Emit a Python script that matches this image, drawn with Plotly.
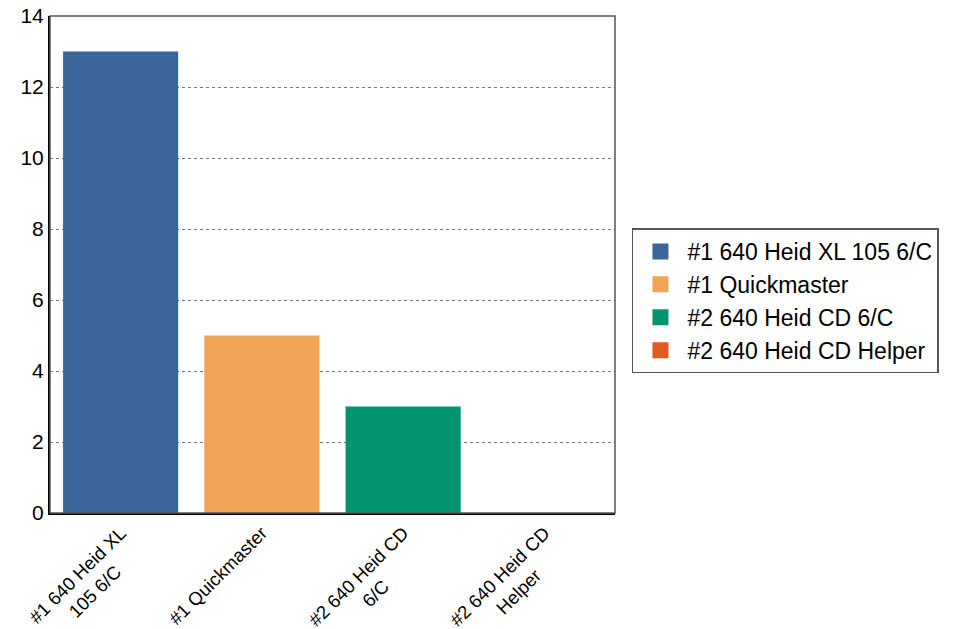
import plotly.graph_objects as go

categories = ["#1 640 Heid XL 105 6/C", "#1 Quickmaster", "#2 640 Heid CD 6/C", "#2 640 Heid CD Helper"]
tick_lines = [["#1 640 Heid XL", "105 6/C"], ["#1 Quickmaster"], ["#2 640 Heid CD", "6/C"], ["#2 640 Heid CD", "Helper"]]
values = [13, 5, 3, 0]
colors = ["#3a6598", "#f0a456", "#009571", "#e05a22"]

# centre the second line of each rotated tick label by padding with no-break spaces
pads = [6, 0, 10, 7]
tick_text = []
for lines, p in zip(tick_lines, pads):
    if len(lines) > 1:
        tick_text.append(lines[0] + "<br>" + lines[1] + "\u00a0" * p)
    else:
        tick_text.append(lines[0])

fig = go.Figure()
for cat, v, c in zip(categories, values, colors):
    fig.add_trace(go.Bar(x=[cat], y=[v], name=cat, legendgroup=cat, showlegend=False,
                         marker=dict(color=c, line=dict(width=0)), width=0.815))
for cat, c in zip(categories, colors):
    fig.add_trace(go.Scatter(x=[None], y=[None], mode="markers", name=cat, legendgroup=cat,
                             marker=dict(symbol="square", size=16, color=c)))

fig.update_layout(
    width=963, height=629,
    margin=dict(l=50, r=348, t=16, b=116),
    plot_bgcolor="white", paper_bgcolor="white",
    barmode="overlay",
    font=dict(family="Liberation Sans, Arial, sans-serif", color="black"),
    showlegend=True,
    legend=dict(x=1.03, y=0.4266, xanchor="left", yanchor="middle",
                bordercolor="#555555", borderwidth=1.5,
                font=dict(size=23), itemwidth=44, itemsizing="trace", tracegroupgap=0),
    shapes=[dict(type="rect", xref="paper", yref="paper", x0=0, x1=1, y0=0, y1=1,
                 line=dict(color="#555555", width=1.5), layer="above")],
)
fig.update_xaxes(categoryorder="array", categoryarray=categories, tickvals=categories,
                 ticktext=tick_text, tickangle=-45, automargin=False,
                 tickfont=dict(size=18.5), showline=True, linecolor="black", linewidth=2,
                 ticks="", showgrid=False)
fig.update_yaxes(range=[0, 14], dtick=2, tickfont=dict(size=21), showline=True, automargin=False,
                 linecolor="black", linewidth=2, showgrid=True, gridcolor="#777777",
                 griddash="dot", gridwidth=1, ticks="", zeroline=False)
fig.write_html("out.html", config={"displayModeBar": False},
               post_script="document.body.style.margin='0';document.body.style.overflow='hidden';")
